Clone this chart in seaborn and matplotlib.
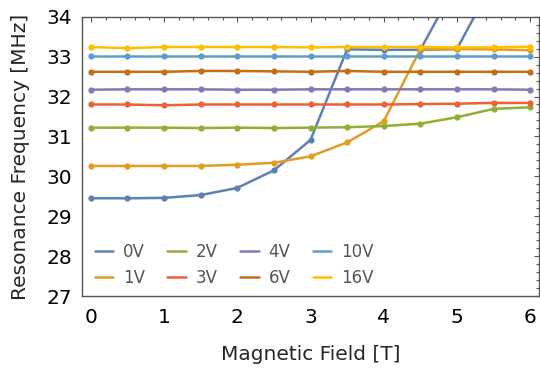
import numpy as np
import pandas as pd
import matplotlib
matplotlib.use("Agg")
import matplotlib.pyplot as plt
from matplotlib.lines import Line2D
from matplotlib.ticker import MultipleLocator
import seaborn as sns

# Magnetic field sweep [T]
field = [0.0, 0.5, 1.0, 1.5, 2.0, 2.5, 3.0, 3.5, 4.0, 4.5, 5.0, 5.5, 6.0]

# Resonance frequency [MHz] per gate voltage
voltages = ["0V", "1V", "2V", "3V", "4V", "6V", "10V", "16V"]
f_0v = [29.45, 29.45, 29.46, 29.53, 29.71, 30.15, 30.91, 33.18, 33.17, 33.17, 33.19, 34.90]
f_0v_upper_field = [4.5, 5.0]
f_0v_upper = [33.17, 34.85]
f_1v = [30.26, 30.26, 30.26, 30.26, 30.29, 30.34, 30.50, 30.85, 31.38, 33.18, 33.19, 33.18, 33.16]
f_2v = [31.22, 31.22, 31.22, 31.21, 31.22, 31.21, 31.22, 31.23, 31.26, 31.32, 31.48, 31.69, 31.73]
f_3v = [31.80, 31.80, 31.78, 31.80, 31.80, 31.80, 31.80, 31.80, 31.80, 31.81, 31.82, 31.84, 31.84]
f_4v = [32.17, 32.18, 32.18, 32.18, 32.17, 32.17, 32.18, 32.18, 32.18, 32.18, 32.18, 32.18, 32.17]
f_6v = [32.62, 32.62, 32.62, 32.64, 32.64, 32.63, 32.62, 32.64, 32.62, 32.62, 32.62, 32.62, 32.62]
f_10v = [33.02, 33.02, 33.02, 33.02, 33.02, 33.02, 33.02, 33.02, 33.02, 33.02, 33.02, 33.02, 33.02]
f_16v = [33.24, 33.21, 33.24, 33.24, 33.24, 33.24, 33.23, 33.24, 33.24, 33.24, 33.23, 33.23, 33.25]

colors = ["#5E81B5", "#E19C24", "#8FB032", "#EB6235",
          "#8778B3", "#C56E1A", "#5D9EC7", "#FFBF00"]
palette = dict(zip(voltages, colors))

series = [
    ("0V", "a", field[:len(f_0v)], f_0v),
    ("0V", "b", f_0v_upper_field, f_0v_upper),
    ("1V", "a", field, f_1v),
    ("2V", "a", field, f_2v),
    ("3V", "a", field, f_3v),
    ("4V", "a", field, f_4v),
    ("6V", "a", field, f_6v),
    ("10V", "a", field, f_10v),
    ("16V", "a", field, f_16v),
]
rows = []
for volt, branch, xs, ys in series:
    for x, y in zip(xs, ys):
        rows.append({"field": x, "freq": y, "voltage": volt, "branch": volt + branch})
df = pd.DataFrame(rows)

sns.set_style("white")
plt.rcParams["font.family"] = ["DejaVu Sans"]

fig = plt.figure(figsize=(5.40, 3.71), dpi=100)
ax = fig.add_axes([0.152, 0.202, 0.846, 0.753])

sns.lineplot(data=df, x="field", y="freq", hue="voltage", hue_order=voltages,
             units="branch", estimator=None, sort=False, palette=palette,
             marker="o", markersize=4.5, markeredgewidth=0, linewidth=1.8,
             legend=False, ax=ax)

ax.set_xlim(-0.12, 6.12)
ax.set_ylim(27, 34)
ax.xaxis.set_major_locator(MultipleLocator(1))
ax.xaxis.set_minor_locator(MultipleLocator(0.2))
ax.yaxis.set_major_locator(MultipleLocator(1))
ax.yaxis.set_minor_locator(MultipleLocator(0.2))

frame_color = "#555555"
for sp in ax.spines.values():
    sp.set_visible(True)
    sp.set_color(frame_color)
    sp.set_linewidth(1.0)
ax.tick_params(which="both", direction="in", top=True, right=True,
               color=frame_color, width=0.8, labelsize=14.5, labelcolor="black")
ax.tick_params(which="major", length=3.8, pad=7)
ax.tick_params(axis="x", which="major", pad=8.5)
ax.tick_params(which="minor", length=2.2)

ax.set_xlabel("Magnetic Field [T]", fontsize=14.5, labelpad=13)
ax.set_ylabel("Resonance Frequency [MHz]", fontsize=14.5, labelpad=12)

handles = [Line2D([0], [0], color=palette[v], lw=1.8) for v in voltages]
leg = ax.legend(handles, voltages, ncol=4, loc="lower left",
                bbox_to_anchor=(0.02, 0.02), frameon=False, fontsize=12,
                handlelength=1.1, handletextpad=0.6, columnspacing=1.35,
                labelspacing=0.5, borderpad=0.2, borderaxespad=0)
for t in leg.get_texts():
    t.set_color("#555555")

fig.savefig("out.png", dpi=100)
